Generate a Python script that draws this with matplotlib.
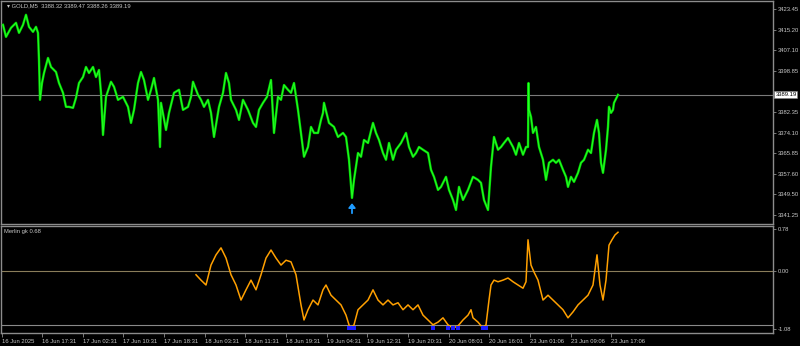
import numpy as np
import matplotlib
matplotlib.use("Agg")
import matplotlib.pyplot as plt

plt.rcParams["font.family"] = ["Liberation Sans", "DejaVu Sans"]

# ========================
# Dados
# ========================

# posição no eixo do tempo (unidades do gráfico) e preço GOLD M5
t_price = [2, 5, 10, 15, 18, 22, 25, 28, 32, 35, 37, 38, 39, 41, 43, 47, 50, 55, 58, 62,
           65, 68, 72, 75, 78, 82, 85, 88, 92, 95, 98, 100, 102, 105, 110, 113, 117, 122, 127, 130,
           133, 137, 140, 143, 147, 150, 153, 157, 159,
           160, 165, 168, 173, 178, 182, 187, 190, 192, 197, 200, 203, 207, 210, 213, 218, 222, 225, 228, 230,
           235, 238, 242, 247, 252, 255, 258, 262, 266, 270, 273, 277, 280, 283, 287, 290, 293, 297, 300, 303,
           307, 310, 313, 317, 320,
           322, 323, 328, 333, 337, 342, 345, 348, 351, 353, 357, 360, 363, 367, 372, 375, 378, 382, 385, 388,
           392, 395, 400, 405, 408, 412, 415, 418, 422, 427, 430, 433, 437, 440, 445, 448, 452, 455, 458, 462,
           467, 472, 477,
           480, 483, 487, 490, 493, 497, 500, 503, 507, 512, 515, 518, 522, 525, 527, 527.5, 528, 530, 532, 535,
           538, 542, 545, 548, 552, 555, 558, 562, 565, 567, 570, 573, 577, 580, 583, 587, 590, 593, 596, 598,
           600, 602, 605, 607, 608, 610, 612, 613, 616, 617]
price = [3417.1, 3412.3, 3415.9, 3417.9, 3413.9, 3417.1, 3421.1, 3416.3, 3414.3, 3416.3, 3413.9, 3403.1, 3387.2,
         3393.9, 3397.9, 3403.9, 3400.3, 3398.3, 3393.9, 3390.0,
         3384.4, 3384.4, 3384.0, 3388.0, 3393.9, 3396.3, 3400.3, 3397.9, 3400.3, 3396.3, 3399.1, 3390.0, 3373.2,
         3388.4, 3394.4, 3392.4, 3387.2, 3388.4, 3384.4, 3378.0,
         3383.2, 3393.9, 3398.3, 3395.1, 3387.2, 3391.2, 3395.9, 3387.2, 3368.4,
         3386.0, 3375.2, 3382.0, 3390.0, 3391.2, 3383.2, 3384.4, 3388.4, 3394.4, 3389.2, 3387.2, 3384.4, 3387.2,
         3382.0, 3372.4, 3384.4, 3390.0, 3397.9, 3393.9, 3387.2,
         3383.2, 3379.2, 3387.2, 3383.2, 3378.0, 3376.4, 3383.2, 3386.0, 3388.4, 3395.1, 3374.0, 3388.4, 3387.2,
         3393.1, 3391.2, 3390.0, 3393.9, 3383.2, 3374.0, 3364.5,
         3368.4, 3376.4, 3374.0, 3374.0, 3379.2,
         3382.0, 3386.0, 3378.0, 3376.4, 3372.4, 3374.0, 3372.4, 3363.3, 3348.1, 3355.3, 3366.0, 3364.5, 3371.2,
         3370.0, 3378.0, 3374.0, 3371.2, 3366.0, 3363.3, 3370.0,
         3363.3, 3367.3, 3370.0, 3374.0, 3368.4, 3364.5, 3366.0, 3368.4, 3367.3, 3366.0, 3359.3, 3356.5, 3351.3,
         3352.5, 3356.5, 3351.3, 3347.3, 3343.3, 3352.5, 3347.3,
         3351.3, 3356.5, 3355.3,
         3354.1, 3347.3, 3343.3, 3360.5, 3372.4, 3367.3, 3368.4, 3370.0, 3372.0, 3368.4, 3365.3, 3370.0, 3365.3,
         3368.4, 3368.4, 3393.9, 3383.2, 3380.4, 3374.0, 3376.4,
         3368.4, 3363.3, 3355.3, 3362.1, 3363.3, 3362.1, 3363.3, 3359.3, 3356.5, 3352.5, 3356.5, 3354.5, 3358.1,
         3362.1, 3363.3, 3367.3, 3366.0, 3374.0, 3379.2, 3374.0,
         3362.1, 3358.1, 3367.3, 3376.4, 3384.4, 3382.0, 3383.2, 3386.0, 3388.4, 3389.2]

# indicador Merlin gk
t_ind = [195, 200, 205, 210, 215, 220, 225, 230, 235, 240, 245, 250, 255, 260, 265, 270, 275, 280, 285, 290,
         295, 300, 303, 307, 312, 317, 322, 325, 330, 335, 340, 345, 348, 350, 353, 357, 362, 367, 372, 377,
         382, 387, 392, 397, 402, 407, 412, 417, 422, 427, 432, 437, 442, 447, 452, 457, 462, 467, 470, 472,
         477, 482, 485, 488, 490, 493, 497, 502, 507, 512, 517, 522, 525, 527, 530, 533, 537, 542, 547, 552,
         557, 562, 567, 572, 577, 582, 587, 592, 596, 599, 602, 605, 608, 611, 614, 617]
merlin = [-0.07, -0.17, -0.26, 0.11, 0.30, 0.43, 0.24, -0.07, -0.26, -0.54, -0.35, -0.17, -0.35, -0.07, 0.24,
          0.39, 0.24, 0.11, 0.20, 0.17,
          -0.07, -0.63, -0.91, -0.72, -0.54, -0.63, -0.35, -0.26, -0.45, -0.54, -0.63, -0.82, -1.00, -1.06, -1.00,
          -0.72, -0.63, -0.54, -0.35, -0.54,
          -0.63, -0.54, -0.63, -0.59, -0.72, -0.63, -0.72, -0.63, -0.82, -0.91, -1.00, -0.95, -0.87, -1.00, -1.06,
          -1.02, -0.91, -0.82, -0.72, -0.87,
          -0.95, -1.06, -1.00, -0.54, -0.26, -0.17, -0.20, -0.17, -0.13, -0.20, -0.26, -0.32, -0.20, 0.58, 0.11,
          -0.02, -0.17, -0.54, -0.45, -0.54,
          -0.63, -0.72, -0.87, -0.76, -0.63, -0.54, -0.45, -0.26, 0.30, -0.26, -0.54, -0.17, 0.48, 0.58, 0.67, 0.72]

price_ticks = [3423.45, 3415.20, 3407.10, 3398.85, 3382.35, 3374.10, 3365.85, 3357.60, 3349.50, 3341.25]
time_ticks = [1, 41, 82, 122, 163, 204, 244, 285, 326, 366, 407, 448, 488, 529, 570, 610]
time_labels = ["16 Jun 2025", "16 Jun 17:31", "17 Jun 02:31", "17 Jun 10:31", "17 Jun 18:31",
               "18 Jun 03:31", "18 Jun 11:31", "18 Jun 19:31", "19 Jun 04:31", "19 Jun 12:31",
               "19 Jun 20:31", "20 Jun 08:01", "20 Jun 16:01", "23 Jun 01:06", "23 Jun 09:06",
               "23 Jun 17:06"]
bid = 3389.19
signal_t = 351
signal_price = 3346.0

# ========================
# Gráfico
# ========================
W, H = 800, 346
fig = plt.figure(figsize=(W / 100, H / 100), dpi=100, facecolor="black")

txt = "#c8c8c8"
border = "#8c8c8c"
fs = 4.2

ax = fig.add_axes([1 / W, 1 - 224 / H, 772 / W, 223 / H], facecolor="black")
ax2 = fig.add_axes([1 / W, 1 - 333 / H, 772 / W, 107 / H], facecolor="black")

for a in (ax, ax2):
    a.set_xlim(0, 772)
    for s in a.spines.values():
        s.set_color(border)
        s.set_linewidth(1.0)
    a.yaxis.tick_right()
    a.tick_params(axis="y", colors=border, labelcolor=txt, labelsize=fs, length=2, pad=1.2, width=0.6)

# painel de preço
ax.set_ylim(3337.7, 3426.6)
ax.axhline(bid, color="#7a7a7a", lw=0.8, zorder=1)
ax.plot(t_price, price, color="#00d800", lw=1.7, zorder=3)
ax.plot(t_price, price, color="#2bff2b", lw=0.6, zorder=4)
ax.annotate("", xy=(signal_t, signal_price), xytext=(signal_t, signal_price - 4.0),
            arrowprops=dict(arrowstyle="-|>,head_width=0.2,head_length=0.25", color="#1e9bff", lw=1.3,
                            shrinkA=0, shrinkB=0))
ax.set_yticks(price_ticks)
ax.set_yticklabels([f"{p:.2f}" for p in price_ticks])
ax.set_xticks([])
ax.text(1.003, bid, f"{bid:.2f}", transform=ax.get_yaxis_transform(), fontsize=fs, color="black",
        va="center", ha="left", zorder=10, clip_on=False,
        bbox=dict(boxstyle="square,pad=0.15", fc="white", ec="#808080", lw=0.4))
fig.text(7 / W, 1 - 5.5 / H, "▾ GOLD,M5  3388.32 3389.47 3388.26 3389.19", fontsize=fs,
         color=txt, va="center", ha="left")

# painel do indicador
ax2.set_ylim(-1.152, 0.836)
ax2.axhline(0.0, color="#8a7d5a", lw=0.8, zorder=1)
ax2.axhline(-1.0, color="#8a8a8a", lw=0.8, zorder=1)
ax2.plot(t_ind, merlin, color="#ffa000", lw=1.1, zorder=3)
t_arr = np.array(t_ind)
m_arr = np.array(merlin)
low = m_arr <= -1.0
ax2.scatter(t_arr[low], np.full(low.sum(), -1.06), marker="s", s=9, color="#1a1aff", zorder=4, lw=0)
ax2.set_yticks([0.78, 0.0, -1.08])
ax2.set_yticklabels(["0.78", "0.00", "-1.08"])
ax2.set_xticks(time_ticks)
ax2.set_xticklabels(time_labels, ha="left")
ax2.tick_params(axis="x", colors=border, labelcolor=txt, labelsize=fs, length=3, pad=1.5, width=0.6)
ax2.text(3 / 772, 0.97, "Merlin gk 0.68", transform=ax2.transAxes, fontsize=fs, color=txt,
         va="top", ha="left")

plt.savefig("out.png", dpi=100, facecolor="black")
